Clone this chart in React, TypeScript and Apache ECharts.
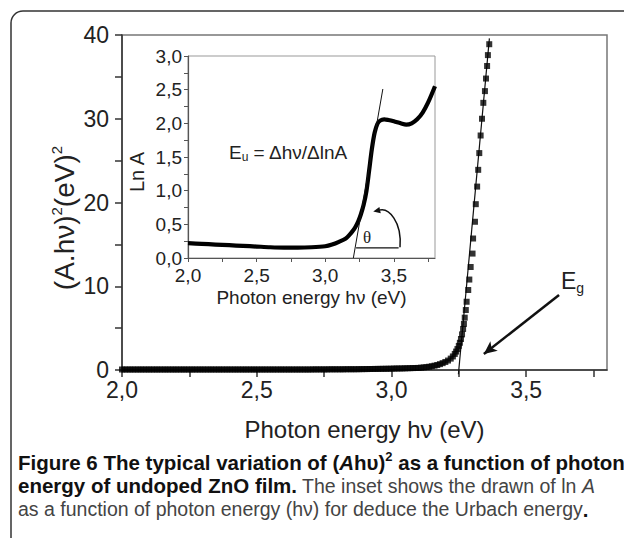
import React, { useEffect, useRef } from "react";
import * as echarts from "echarts";

// Main curve: (A·hν)² versus photon energy hν (eV)
const mainEnergy = [
  2.0, 2.01, 2.02, 2.03, 2.04, 2.05, 2.06, 2.07, 2.08, 2.09,
  2.1, 2.11, 2.12, 2.13, 2.14, 2.15, 2.16, 2.17, 2.18, 2.19,
  2.2, 2.21, 2.22, 2.23, 2.24, 2.25, 2.26, 2.27, 2.28, 2.29,
  2.3, 2.31, 2.32, 2.33, 2.34, 2.35, 2.36, 2.37, 2.38, 2.39,
  2.4, 2.41, 2.42, 2.43, 2.44, 2.45, 2.46, 2.47, 2.48, 2.49,
  2.5, 2.51, 2.52, 2.53, 2.54, 2.55, 2.56, 2.57, 2.58, 2.59,
  2.6, 2.61, 2.62, 2.63, 2.64, 2.65, 2.66, 2.67, 2.68, 2.69,
  2.7, 2.71, 2.72, 2.73, 2.74, 2.75, 2.76, 2.77, 2.78, 2.79,
  2.8, 2.81, 2.82, 2.83, 2.84, 2.85, 2.86, 2.87, 2.88, 2.89,
  2.9, 2.91, 2.92, 2.93, 2.94, 2.95, 2.96, 2.97, 2.98, 2.99,
  3.0, 3.01, 3.02, 3.03, 3.04, 3.05, 3.06, 3.07, 3.08, 3.09,
  3.1, 3.11, 3.12, 3.13, 3.14, 3.15, 3.16, 3.17, 3.18, 3.19,
  3.2, 3.21, 3.22, 3.228, 3.235, 3.24, 3.245, 3.25, 3.254, 3.258,
  3.262, 3.266, 3.269, 3.272, 3.276, 3.279, 3.285, 3.289, 3.294, 3.301,
  3.303, 3.31, 3.313, 3.318, 3.322, 3.326, 3.331, 3.336, 3.341, 3.347,
  3.351, 3.355, 3.358, 3.363,
];
const mainSquared = [
  0.06, 0.06, 0.06, 0.06, 0.06, 0.06, 0.06, 0.06, 0.06, 0.06,
  0.06, 0.06, 0.06, 0.06, 0.06, 0.06, 0.06, 0.06, 0.06, 0.06,
  0.06, 0.06, 0.06, 0.06, 0.06, 0.06, 0.06, 0.06, 0.06, 0.06,
  0.06, 0.06, 0.06, 0.06, 0.06, 0.06, 0.06, 0.06, 0.06, 0.06,
  0.06, 0.06, 0.06, 0.06, 0.06, 0.06, 0.06, 0.06, 0.06, 0.06,
  0.06, 0.06, 0.06, 0.06, 0.06, 0.06, 0.06, 0.06, 0.06, 0.06,
  0.06, 0.06, 0.06, 0.06, 0.06, 0.06, 0.06, 0.06, 0.06, 0.06,
  0.06, 0.07, 0.07, 0.07, 0.07, 0.07, 0.07, 0.08, 0.08, 0.08,
  0.08, 0.08, 0.08, 0.09, 0.09, 0.09, 0.09, 0.09, 0.1, 0.1,
  0.11, 0.11, 0.12, 0.12, 0.13, 0.13, 0.14, 0.14, 0.15, 0.15,
  0.16, 0.17, 0.18, 0.18, 0.19, 0.2, 0.21, 0.22, 0.23, 0.24,
  0.25, 0.28, 0.31, 0.35, 0.39, 0.45, 0.52, 0.6, 0.7, 0.82,
  0.96, 1.13, 1.36, 1.62, 1.92, 2.2, 2.5, 2.88, 3.25, 3.7,
  4.25, 4.9, 5.5, 6.25, 7.16, 8.15, 9.55, 10.8, 12.3, 13.9,
  15.7, 17.7, 19.8, 21.9, 23.9, 25.9, 28.0, 30.0, 31.9, 33.3,
  34.8, 36.3, 37.6, 38.9,
];

// Linear fit of the absorption edge, extrapolated to the energy axis (Eg)
const gapTangentEnergy = [3.2485, 3.3635];
const gapTangentSquared = [-0.5, 39.6];

// Inset: ln A versus photon energy
const insetEnergy = [
  2.0, 2.1, 2.2, 2.3, 2.4, 2.5, 2.6, 2.7, 2.8, 2.9, 3.0, 3.05, 3.1, 3.15, 3.18, 3.2, 3.22, 3.24, 3.26,
  3.28, 3.3, 3.32, 3.34, 3.36, 3.38, 3.4, 3.43, 3.46, 3.5, 3.55, 3.59, 3.63, 3.67, 3.71, 3.75, 3.8,
];
const insetLnA = [
  0.22, 0.21, 0.2, 0.19, 0.18, 0.17, 0.16, 0.155, 0.155, 0.16, 0.175, 0.2, 0.24, 0.29, 0.35, 0.4, 0.46,
  0.54, 0.65, 0.79, 0.99, 1.3, 1.62, 1.86, 1.99, 2.04, 2.06, 2.05, 2.03, 2.0, 1.98, 2.0, 2.06, 2.16, 2.31, 2.55,
];

// Urbach tangent and the horizontal reference for the angle θ
const urbachTangentEnergy = [3.205, 3.42];
const urbachTangentLnA = [0.0, 2.51];
const thetaBaseEnergy = [3.225, 3.535];
const thetaBaseLnA = [0.15, 0.15];
// Curved arrow (Bezier control points) and θ label anchor
const thetaArrowEnergy = [3.545, 3.56, 3.46, 3.35];
const thetaArrowLnA = [0.16, 0.55, 0.74, 0.69];
const thetaLabelAt = [3.305, 0.3];

// Arrow pointing at the gap energy
const gapArrowEnergy = [3.622, 3.343];
const gapArrowSquared = [8.96, 1.91];

// Ticks and labels
const mainXTicks = [2, 2.25, 2.5, 2.75, 3, 3.25, 3.5, 3.75];
const mainXLabels = [2, 2.5, 3, 3.5];
const mainYTicks = [0, 5, 10, 15, 20, 25, 30, 35, 40];
const mainYLabels = [0, 10, 20, 30, 40];
const insetXTicks = [2, 2.25, 2.5, 2.75, 3, 3.25, 3.5, 3.75];
const insetXLabels = [2, 2.5, 3, 3.5];
const insetYTicks = [0, 0.25, 0.5, 0.75, 1, 1.25, 1.5, 1.75, 2, 2.25, 2.5, 2.75, 3];
const insetYLabels = [0, 0.5, 1, 1.5, 2, 2.5, 3];

// Figure caption, one rich-text line per row
const captionLines = [
  "{b|Figure 6 The typical variation of (}{bi|A}{b|hυ)}{bs|2}{b| as a function of photon}",
  "{b|energy of undoped ZnO film.}{r| The inset shows the drawn of ln }{ri|A}",
  "{r|as a function of photon energy (hν) for deduce the Urbach energy}{b|.}",
];

const SANS = "Liberation Sans";
const CAPTION = "Liberation Sans";
const comma = (v: number) => v.toFixed(1).replace(".", ",");

const zip = (xs: number[], ys: number[]) => xs.map((x, i) => [x, ys[i]]);

function buildOption(): echarts.EChartsOption {
  const axisText = { color: "#222", fontFamily: SANS };
  const bold = { fontSize: 20.5, fontWeight: "bold", fontFamily: CAPTION, fill: "#111", lineHeight: 23.5 };
  const regular = { fontSize: 19.5, fontFamily: CAPTION, fill: "#444", lineHeight: 23.5 };
  return {
    animation: false,
    backgroundColor: "#fff",
    grid: [
      {
        left: 122,
        top: 35,
        right: 17,
        bottom: 168,
        show: true,
        borderColor: "#777",
        borderWidth: 1.5,
        backgroundColor: "#fff",
      },
      {
        left: 188,
        top: 56,
        width: 247,
        height: 202,
        show: true,
        borderColor: "#999",
        borderWidth: 1,
        backgroundColor: "#fff",
      },
    ],
    xAxis: [
      {
        type: "value",
        gridIndex: 0,
        min: 2,
        max: 3.8,
        name: "Photon energy hν (eV)",
        nameLocation: "middle",
        nameGap: 47,
        nameTextStyle: { ...axisText, fontSize: 24 },
        axisLine: { onZero: false, lineStyle: { color: "#333", width: 1.5 } },
        axisTick: { customValues: mainXTicks, length: 7, lineStyle: { color: "#333", width: 1.5 } },
        axisLabel: { customValues: mainXLabels, formatter: comma, margin: 8, fontSize: 23, ...axisText },
        splitLine: { show: false },
      },
      {
        type: "value",
        gridIndex: 1,
        min: 2,
        max: 3.8,
        name: "Photon energy hν (eV)",
        nameLocation: "middle",
        nameGap: 30,
        nameTextStyle: { ...axisText, fontSize: 19 },
        axisLine: { onZero: false, lineStyle: { color: "#555", width: 1.2 } },
        axisTick: { customValues: insetXTicks, length: 4, lineStyle: { color: "#555", width: 1 } },
        axisLabel: { customValues: insetXLabels, formatter: comma, margin: 8, fontSize: 19, ...axisText },
        splitLine: { show: false },
      },
    ],
    yAxis: [
      {
        type: "value",
        gridIndex: 0,
        min: 0,
        max: 40,
        axisLine: { onZero: false, lineStyle: { color: "#333", width: 1.5 } },
        axisTick: { customValues: mainYTicks, length: 7, lineStyle: { color: "#333", width: 1.5 } },
        axisLabel: { customValues: mainYLabels, margin: 13, fontSize: 23, ...axisText },
        splitLine: { show: false },
      },
      {
        type: "value",
        gridIndex: 1,
        min: 0,
        max: 3,
        axisLine: { onZero: false, lineStyle: { color: "#555", width: 1.2 } },
        axisTick: { customValues: insetYTicks, length: 4, lineStyle: { color: "#555", width: 1 } },
        axisLabel: { customValues: insetYLabels, formatter: comma, margin: 6, fontSize: 19, ...axisText },
        splitLine: { show: false },
      },
    ],
    series: [
      {
        type: "line",
        name: "Eg fit",
        xAxisIndex: 0,
        yAxisIndex: 0,
        data: zip(gapTangentEnergy, gapTangentSquared),
        showSymbol: false,
        clip: false,
        lineStyle: { color: "#111", width: 1.2 },
        silent: true,
        z: 3,
      },
      {
        type: "scatter",
        name: "(Ahν)²",
        xAxisIndex: 0,
        yAxisIndex: 0,
        data: zip(mainEnergy, mainSquared),
        symbol: "rect",
        symbolSize: 6,
        itemStyle: { color: "#000" },
        silent: true,
        z: 4,
        markLine: {
          silent: true,
          symbol: ["none", "arrow"],
          symbolSize: [9, 13],
          label: { show: false },
          lineStyle: { color: "#111", width: 2.5, type: "solid" },
          data: [
            [
              { coord: [gapArrowEnergy[0], gapArrowSquared[0]] },
              { coord: [gapArrowEnergy[1], gapArrowSquared[1]] },
            ],
          ],
        },
      },
      {
        type: "line",
        name: "ln A",
        xAxisIndex: 1,
        yAxisIndex: 1,
        data: zip(insetEnergy, insetLnA),
        showSymbol: false,
        smooth: 0.3,
        lineStyle: { color: "#000", width: 4.2 },
        silent: true,
        z: 4,
      },
      {
        type: "line",
        name: "Urbach fit",
        xAxisIndex: 1,
        yAxisIndex: 1,
        data: zip(urbachTangentEnergy, urbachTangentLnA),
        showSymbol: false,
        lineStyle: { color: "#111", width: 1 },
        silent: true,
        z: 5,
      },
      {
        type: "line",
        name: "θ base",
        xAxisIndex: 1,
        yAxisIndex: 1,
        data: zip(thetaBaseEnergy, thetaBaseLnA),
        showSymbol: false,
        lineStyle: { color: "#111", width: 1.2 },
        silent: true,
        z: 5,
      },
      {
        type: "custom",
        name: "θ arrow",
        xAxisIndex: 1,
        yAxisIndex: 1,
        silent: true,
        z: 6,
        data: [[thetaLabelAt[0], thetaLabelAt[1]]],
        renderItem: (_params: any, api: any) => {
          const p = thetaArrowEnergy.map((x, i) => api.coord([x, thetaArrowLnA[i]]));
          const [p0, p1, p2, p3] = p;
          const ang = Math.atan2(p3[1] - p2[1], p3[0] - p2[0]);
          const L = 7;
          const W = 3.2;
          const back = [p3[0] - L * Math.cos(ang), p3[1] - L * Math.sin(ang)];
          const left = [back[0] + W * Math.sin(ang), back[1] - W * Math.cos(ang)];
          const right = [back[0] - W * Math.sin(ang), back[1] + W * Math.cos(ang)];
          const t = api.coord(thetaLabelAt);
          return {
            type: "group",
            children: [
              {
                type: "bezierCurve",
                shape: {
                  x1: p0[0], y1: p0[1],
                  cpx1: p1[0], cpy1: p1[1],
                  cpx2: p2[0], cpy2: p2[1],
                  x2: back[0], y2: back[1],
                },
                style: { stroke: "#111", lineWidth: 1.5, fill: "none" },
              },
              { type: "polygon", shape: { points: [p3, left, right] }, style: { fill: "#111" } },
              {
                type: "text",
                x: t[0],
                y: t[1],
                style: {
                  text: "θ",
                  fill: "#222",
                  font: '17px "Liberation Serif"',
                  align: "center",
                  verticalAlign: "middle",
                },
              },
            ],
          };
        },
      },
    ],
    graphic: [
      {
        type: "rect",
        silent: true,
        shape: { x: 11, y: 11, width: 700, height: 600, r: 12 },
        style: { fill: "none", stroke: "#333", lineWidth: 1.5 },
        z: 10,
      },
      {
        // Main y-axis title, rotated to read bottom-to-top
        type: "text",
        x: 64,
        y: 218,
        rotation: Math.PI / 2,
        style: {
          text: "{t|(A.hν)}{s|2}{t|(eV)}{s|2}",
          align: "center",
          verticalAlign: "middle",
          rich: {
            t: { fontSize: 28, fontFamily: SANS, fill: "#222", lineHeight: 30 },
            s: { fontSize: 15, fontFamily: SANS, fill: "#222", lineHeight: 15, verticalAlign: "top" },
          },
        } as any,
      },
      {
        type: "text",
        x: 137,
        y: 172,
        rotation: Math.PI / 2,
        style: {
          text: "Ln A",
          fill: "#222",
          font: `20px "${SANS}"`,
          align: "center",
          verticalAlign: "middle",
        },
      },
      {
        type: "text",
        x: 229,
        y: 152,
        style: {
          text: "{e|E}{s|u}{e| = Δhν/ΔlnA}",
          verticalAlign: "middle",
          rich: {
            e: { fontSize: 19, fontFamily: SANS, fill: "#222", lineHeight: 22 },
            s: { fontSize: 12, fontFamily: SANS, fill: "#222", lineHeight: 12, verticalAlign: "bottom" },
          },
        } as any,
      },
      {
        type: "text",
        x: 561,
        y: 281,
        style: {
          text: "{e|E}{s|g}",
          verticalAlign: "middle",
          rich: {
            e: { fontSize: 23, fontFamily: SANS, fill: "#222", lineHeight: 28 },
            s: { fontSize: 14, fontFamily: SANS, fill: "#222", lineHeight: 14, verticalAlign: "bottom" },
          },
        } as any,
      },
      {
        // Caption block: three lines centred on y = 462, 485.5, 509
        type: "text",
        x: 18,
        y: 450.25,
        style: {
          text: captionLines.join("\n"),
          verticalAlign: "top",
          rich: {
            b: bold,
            bi: { ...bold, fontStyle: "italic" },
            bs: { ...bold, fontSize: 13, lineHeight: 13, verticalAlign: "top" },
            r: regular,
            ri: { ...regular, fontStyle: "italic" },
          },
        } as any,
      },
    ],
  } as echarts.EChartsOption;
}

export default function App() {
  const ref = useRef<HTMLDivElement>(null);
  useEffect(() => {
    if (!ref.current) return;
    const chart = echarts.init(ref.current, null, { renderer: "svg" });
    chart.setOption(buildOption());
    return () => chart.dispose();
  }, []);
  return (
    <div
      ref={ref}
      style={{ position: "fixed", left: 0, top: 0, width: 624, height: 538, background: "#fff" }}
    />
  );
}
